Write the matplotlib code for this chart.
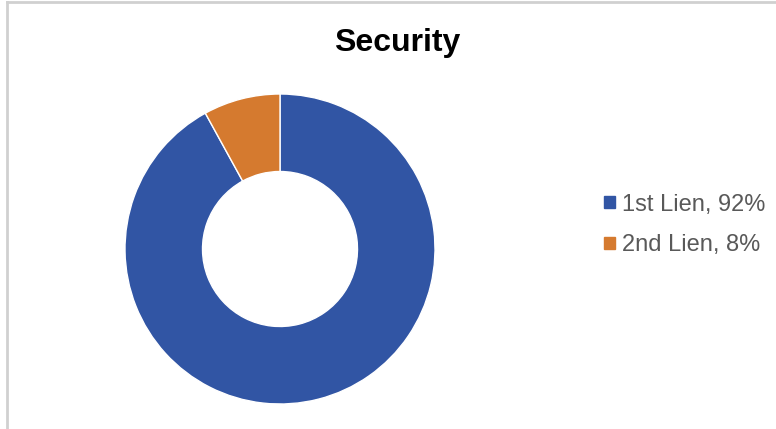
import matplotlib.pyplot as plt
from matplotlib.patches import Rectangle

plt.rcParams['font.family'] = ['Liberation Sans', 'DejaVu Sans']

labels = ["1st Lien", "2nd Lien"]
shares = [92, 8]
colors = ["#3155A4", "#D57A2F"]

W, H = 776, 429
fig = plt.figure(figsize=(W / 100, H / 100), dpi=100)

# light frame on top and left
fig.add_artist(plt.Line2D([6.5 / W, 6.5 / W], [0, 1 - 1.5 / H], color="#d0d0d0", lw=2))
fig.add_artist(plt.Line2D([6.5 / W, 1], [1 - 1.5 / H, 1 - 1.5 / H], color="#d0d0d0", lw=2))

cx, cy, r = 280, 249, 155
ax = fig.add_axes([(cx - r) / W, (H - cy - r) / H, 2 * r / W, 2 * r / H])
ax.pie(shares, colors=colors, startangle=90, counterclock=False, radius=1,
       wedgeprops=dict(width=0.5, edgecolor="white", linewidth=1))
ax.set_xlim(-1, 1)
ax.set_ylim(-1, 1)
ax.set_aspect("equal")
ax.axis("off")

fig.text(397 / W, 1 - 43 / H, "Security", ha="center", va="center",
         fontsize=23, fontweight="bold", color="black")

handles = [Rectangle((0, 0), 1, 1, color=c) for c in colors]
leg_labels = ["{}, {}%".format(l, s) for l, s in zip(labels, shares)]
leg = fig.legend(handles, leg_labels, loc="center left",
                 bbox_to_anchor=(604 / W, 1 - 225 / H), frameon=False,
                 fontsize=17, handlelength=0.45, handleheight=0.45,
                 handletextpad=0.3, labelspacing=0.8, borderpad=0, borderaxespad=0)
for t in leg.get_texts():
    t.set_color("#595959")

fig.savefig("out.png", dpi=100)
